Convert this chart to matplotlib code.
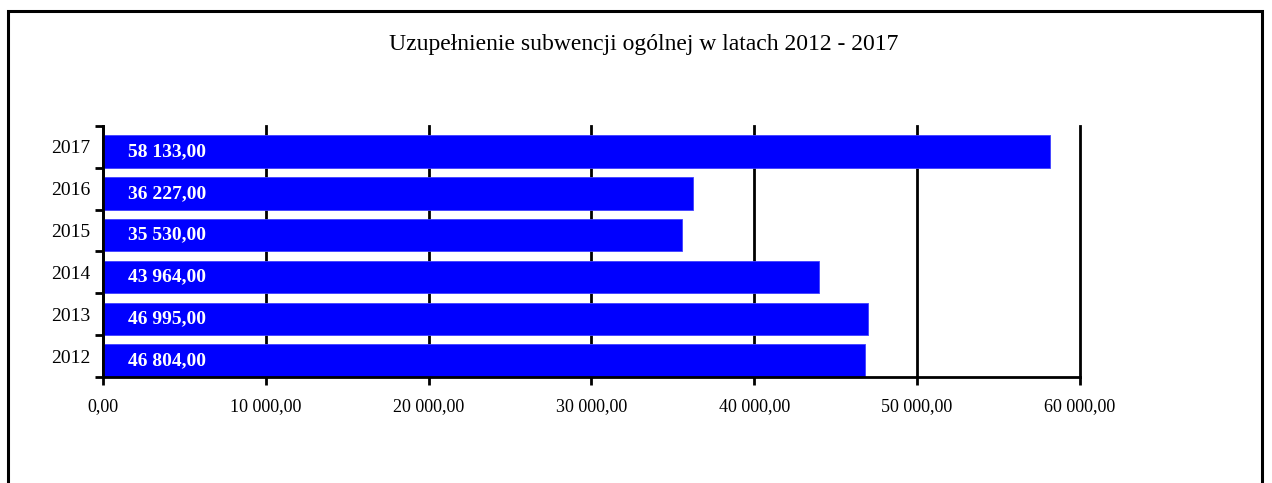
import matplotlib.pyplot as plt
from matplotlib.patches import Rectangle

# data
years = ["2012", "2013", "2014", "2015", "2016", "2017"]
values = [46804.00, 46995.00, 43964.00, 35530.00, 36227.00, 58133.00]
xticks = [0, 10000, 20000, 30000, 40000, 50000, 60000]
title = "Uzupełnienie subwencji ogólnej w latach 2012 - 2017"

plt.rcParams['font.family'] = ['Liberation Serif', 'DejaVu Serif']


def pl_fmt(v):
    # 58133 -> "58 133,00"
    s = "{:,.2f}".format(v)
    return s.replace(",", " ").replace(".", ",")


fig = plt.figure(figsize=(12.72, 4.83), dpi=100)
ax = fig.add_axes([0.081, 0.2195, 0.768, 0.5197])

# outer frame (bottom edge falls outside the picture)
fig.patches.append(Rectangle((0.0065, -0.05), 0.9855, 1.027, transform=fig.transFigure,
                             fill=False, edgecolor="black", linewidth=2.2))

ypos = list(range(len(years)))
bh = 0.78
# bars sit on the lower edge of each category band
ax.barh([p - 0.5 for p in ypos], values, height=bh, align="edge", color="#0000ff",
        edgecolor="#4040ff", linewidth=0.6, zorder=3)

for y, v in zip(ypos, values):
    ax.annotate(pl_fmt(v), xy=(0, y - 0.5 + bh / 2), xytext=(18, 0),
                textcoords="offset points", ha="left", va="center",
                color="white", fontweight="bold", fontsize=14, zorder=4)

ax.set_xlim(0, 60000)
ax.set_ylim(-0.5, len(years) - 0.5)
ax.set_xticks(xticks)
ax.set_xticklabels([pl_fmt(t) for t in xticks], fontsize=13)
ax.set_yticks(ypos)
ax.set_yticklabels(years, fontsize=14)
ax.tick_params(axis="y", length=0, pad=9)
ax.set_yticks([p - 0.5 for p in ypos] + [len(years) - 0.5], minor=True)
ax.tick_params(axis="y", which="minor", length=6, width=2)
ax.tick_params(axis="x", length=6, width=2, pad=9)

ax.grid(axis="x", color="black", linewidth=2, zorder=1)
for gl in ax.get_xgridlines():
    gl.set_clip_on(False)
for side in ["top", "right"]:
    ax.spines[side].set_visible(False)
for side in ["left", "bottom"]:
    ax.spines[side].set_linewidth(2)
    ax.spines[side].set_zorder(5)

fig.text(0.506, 0.908, title, ha="center", va="center", fontsize=17)

fig.savefig("out.png", dpi=100)
